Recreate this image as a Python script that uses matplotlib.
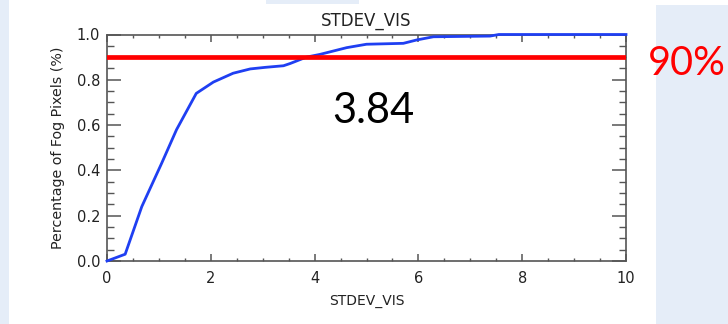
import matplotlib
matplotlib.use("Agg")
import matplotlib.pyplot as plt
from matplotlib.patches import Rectangle
from matplotlib.ticker import MultipleLocator

# Cumulative fraction of fog pixels versus STDEV_VIS
stdev_vis = [0.0, 0.35, 0.67, 1.05, 1.34, 1.72, 2.05, 2.43, 2.76, 3.05, 3.40,
             3.53, 3.84, 4.10, 4.62, 5.00, 5.71, 5.97, 6.29, 7.38, 7.55, 10.0]
fog_fraction = [0.0, 0.03, 0.24, 0.43, 0.58, 0.74, 0.79, 0.829, 0.848, 0.855, 0.862,
                0.872, 0.90, 0.912, 0.942, 0.957, 0.961, 0.976, 0.990, 0.993, 1.0, 1.0]

threshold = 0.90
threshold_label = "90%"
crossing_label = "3.84"
x_ticks = [0, 2, 4, 6, 8, 10]
y_ticks = [0.0, 0.2, 0.4, 0.6, 0.8, 1.0]

W, H = 728, 324
fig = plt.figure(figsize=(W / 100, H / 100), dpi=100)
fig.patch.set_facecolor("white")

slide_blue = "#E5EDF8"
def px_rect(x0, y0, x1, y1):
    fig.patches.append(Rectangle((x0 / W, 1 - y1 / H), (x1 - x0) / W, (y1 - y0) / H,
                                 transform=fig.transFigure, facecolor=slide_blue,
                                 edgecolor="none", zorder=0))
px_rect(0, 0, 9, H)
px_rect(266, 0, 359, 4)
px_rect(656, 5, W, H)

ax = fig.add_axes([107 / W, 1 - 261 / H, (626 - 107) / W, (261 - 34.5) / H])
ax.set_facecolor("white")

frame = "#555555"
ax.plot(stdev_vis, fog_fraction, color="#1f3ff2", lw=2.0, clip_on=False, zorder=3)
ax.axhline(threshold, color="#ff0000", lw=3.4, zorder=4)

ax.set_xlim(0, 10)
ax.set_ylim(0, 1.0)
ax.set_xticks(x_ticks)
ax.set_yticks(y_ticks)
ax.set_xticklabels([str(v) for v in x_ticks])
ax.set_yticklabels([f"{v:.1f}" for v in y_ticks])
ax.xaxis.set_minor_locator(MultipleLocator(0.5))
ax.yaxis.set_minor_locator(MultipleLocator(0.05))

for s in ax.spines.values():
    s.set_color(frame)
    s.set_linewidth(1.2)

ax.tick_params(axis="x", which="major", direction="in", length=5, width=1.1,
               color=frame, top=True, labelsize=10.5, labelcolor="#222222", pad=7)
ax.tick_params(axis="x", which="minor", direction="in", length=2.5, width=1.0,
               color=frame, top=True)
ax.tick_params(axis="y", which="major", direction="in", length=10, width=1.1,
               color=frame, right=True, labelsize=10.5, labelcolor="#222222", pad=5)
ax.tick_params(axis="y", which="minor", direction="in", length=5, width=1.0,
               color=frame, right=True)

ax.set_title("STDEV_VIS", fontsize=12, color="#222222", pad=6)
ax.set_xlabel("STDEV_VIS", fontsize=10, color="#222222", labelpad=6)
ax.set_ylabel("Percentage of Fog Pixels (%)", fontsize=10.3, color="#222222", labelpad=8)

fig.text(373.5 / W, 1 - 123 / H, crossing_label, fontsize=30, family="Lato",
         color="black", ha="center", va="baseline")
fig.text(726 / W, 1 - 75 / H, threshold_label, fontsize=28.5, family="Lato",
         color="#ff0000", ha="right", va="baseline")

fig.savefig("out.png", dpi=100)
